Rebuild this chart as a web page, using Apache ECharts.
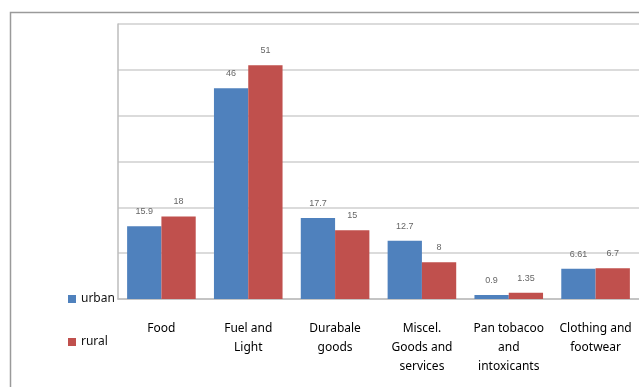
<!DOCTYPE html>
<html>
<head>
<meta charset="utf-8">
<script src="https://cdn.jsdelivr.net/npm/echarts@6/dist/echarts.min.js"></script>
<style>html,body{margin:0;padding:0;background:#fff;}#c{width:639px;height:387px;}</style>
</head>
<body>
<div id="c"></div>
<script>
const categories = ["Food", "Fuel and\nLight", "Durabale\ngoods", "Miscel.\nGoods and\nservices", "Pan tobacoo\nand\nintoxicants", "Clothing and\nfootwear"];
const urban = [15.9, 46, 17.7, 12.7, 0.9, 6.61];
const rural = [18, 51, 15, 8, 1.35, 6.7];
const seriesNames = ["urban", "rural"];

const chart = echarts.init(document.getElementById('c'));
const labelStyle = {show: true, position: 'top', distance: 10, fontSize: 9, color: '#666', fontFamily: 'Liberation Sans'};
chart.setOption({
  animation: false,
  graphic: [{
    type: 'rect', shape: {x: 10.5, y: 12.5, width: 700, height: 500},
    style: {fill: 'none', stroke: '#9a9a9a', lineWidth: 1.5}, silent: true, z: -1
  }],
  legend: {
    orient: 'vertical', left: 63, top: 288, itemGap: 31,
    itemWidth: 8, itemHeight: 8, icon: 'rect',
    textStyle: {fontSize: 12, color: '#111', fontFamily: 'Noto Sans'},
    data: seriesNames
  },
  grid: {left: 118, top: 24, bottom: 88, right: -4, containLabel: false},
  xAxis: {
    type: 'category', data: categories,
    axisLine: {lineStyle: {color: '#bdbdbd', width: 1.5}},
    axisTick: {show: false},
    axisLabel: {interval: 0, margin: 20, lineHeight: 19, fontSize: 12, color: '#000', fontFamily: 'Noto Sans'}
  },
  yAxis: {
    type: 'value', min: 0, max: 60, interval: 10,
    axisLine: {show: true, lineStyle: {color: '#bdbdbd', width: 1.5}},
    axisTick: {show: false}, axisLabel: {show: false},
    splitLine: {lineStyle: {color: '#cfcfcf', width: 1.5}}
  },
  series: [
    {name: seriesNames[0], type: 'bar', data: urban, barGap: '0%', barCategoryGap: '21%',
     itemStyle: {color: '#4F81BD'}, label: labelStyle},
    {name: seriesNames[1], type: 'bar', data: rural, barGap: '0%', barCategoryGap: '21%',
     itemStyle: {color: '#C0504D'}, label: labelStyle}
  ]
});
</script>
</body>
</html>
